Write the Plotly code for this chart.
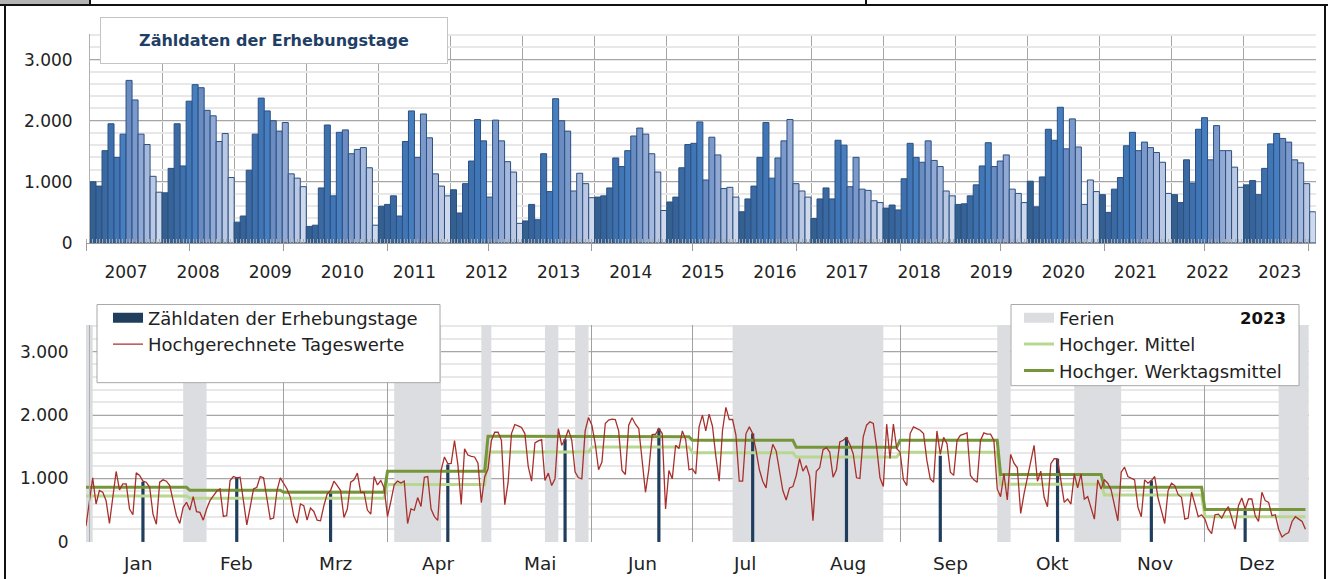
import pandas as pd
import plotly.graph_objects as go

# ---------------- obere Grafik: Zähldaten der Erhebungstage 2007-2023 ----------------
jahre = list(range(2007, 2024))
werte_2007 = [1000, 930, 1510, 1950, 1400, 1780, 2660, 2340, 1780, 1610, 1090, 830]
werte_2008 = [820, 1220, 1950, 1260, 2320, 2590, 2540, 2170, 2080, 1660, 1790, 1070]
werte_2009 = [340, 440, 1190, 1780, 2370, 2160, 2000, 1830, 1970, 1130, 1060, 920]
werte_2010 = [270, 290, 900, 1930, 770, 1810, 1850, 1460, 1530, 1560, 1230, 290]
werte_2011 = [600, 630, 770, 440, 1660, 2160, 1400, 2110, 1720, 1130, 930, 770]
werte_2012 = [870, 490, 970, 1340, 2020, 1670, 750, 2010, 1670, 1330, 1160, 320]
werte_2013 = [360, 630, 380, 1460, 840, 2360, 2000, 1830, 850, 1140, 970, 740]
werte_2014 = [750, 770, 900, 1390, 1250, 1510, 1750, 1880, 1780, 1460, 1160, 530]
werte_2015 = [670, 750, 1230, 1610, 1630, 1980, 1030, 1730, 1440, 890, 910, 750]
werte_2016 = [510, 720, 930, 1400, 1970, 1060, 1390, 1670, 2020, 970, 850, 750]
werte_2017 = [400, 720, 900, 720, 1680, 1600, 920, 1400, 880, 860, 690, 660]
werte_2018 = [570, 620, 540, 1050, 1630, 1400, 1320, 1670, 1350, 1250, 850, 770]
werte_2019 = [630, 640, 770, 950, 1260, 1640, 1250, 1340, 1440, 880, 810, 660]
werte_2020 = [1010, 590, 1080, 1860, 1680, 2220, 1540, 2030, 1570, 630, 1030, 840]
werte_2021 = [790, 500, 880, 1070, 1590, 1810, 1510, 1650, 1560, 1480, 1320, 810]
werte_2022 = [790, 660, 1360, 980, 1860, 2050, 1360, 1920, 1510, 1510, 1240, 910]
werte_2023 = [950, 1020, 790, 1220, 1620, 1790, 1710, 1650, 1360, 1310, 970, 510]
monatswerte = [werte_2007, werte_2008, werte_2009, werte_2010, werte_2011, werte_2012,
               werte_2013, werte_2014, werte_2015, werte_2016, werte_2017, werte_2018,
               werte_2019, werte_2020, werte_2021, werte_2022, werte_2023]

monatsfarben = ['#34608f', '#36649a', '#3b6aa3', '#3e70ad', '#4176b6', '#467ec0',
                '#6a8cc1', '#7b9acb', '#92a9d3', '#a6b9dc', '#bac8e3', '#cfd9ec']

# ---------------- untere Grafik: Jahr 2023 ----------------
monate = ['Jan', 'Feb', 'Mrz', 'Apr', 'Mai', 'Jun', 'Jul', 'Aug', 'Sep', 'Okt', 'Nov', 'Dez']

tage_jan = [254, 620, 1010, 598, 810, 783, 650, 291, 700, 1111, 820, 915, 915, 518, 429, 1090,
            1048, 958, 942, 862, 439, 280, 942, 979, 958, 889, 651, 413, 291, 545, 624]
tage_feb = [503, 714, 476, 466, 344, 519, 651, 725, 799, 836, 402, 413, 968, 1032, 1011, 1021,
            651, 270, 545, 836, 862, 1032, 1011, 677, 360, 376, 810, 1011]
tage_mrz = [926, 836, 704, 413, 296, 598, 571, 344, 534, 481, 344, 333, 571, 757, 810, 958,
            889, 810, 386, 519, 942, 979, 1085, 783, 783, 503, 439, 1032, 899, 968, 850]
tage_apr = [400, 640, 900, 960, 930, 960, 290, 520, 500, 700, 560, 1020, 1030, 520, 400, 340,
            1130, 1340, 1233, 1240, 1600, 1220, 590, 1470, 1370, 1350, 1340, 1240, 620, 1030]
tage_mai = [1150, 1600, 1730, 1730, 1603, 587, 942, 1709, 1852, 1831, 1804, 1709, 1190, 958,
            1561, 1593, 1614, 968, 1085, 889, 995, 1788, 1524, 1619, 1772, 1603, 1101, 1011,
            995, 1751, 1963]
tage_jun = [1841, 1550, 1138, 1259, 1868, 1921, 1937, 1931, 1751, 1127, 1063, 1841, 1958, 1857,
            1788, 1286, 783, 1138, 1693, 1698, 1788, 1709, 519, 1127, 995, 1524, 1471, 1751,
            1614, 1138]
tage_jul = [1153, 1074, 1815, 2000, 1751, 2016, 1825, 1349, 958, 1762, 2122, 1931, 1931, 1683,
            958, 958, 1709, 1815, 1709, 1444, 1138, 958, 852, 1286, 1540, 1434, 1085, 810, 661,
            852, 873]
tage_aug = [1048, 1312, 1116, 1206, 1032, 333, 1116, 1169, 1455, 1487, 1418, 1021, 1138, 1577,
            1603, 1646, 1540, 1392, 1011, 1000, 1656, 1841, 1894, 1868, 1497, 1011, 873, 1857,
            1312, 1857, 1471]
tage_sep = [1418, 979, 889, 1709, 1815, 1788, 1762, 1709, 1286, 995, 942, 1750, 1380, 1650,
            1550, 1100, 1050, 1600, 1680, 1700, 1720, 1048, 980, 940, 1600, 1720, 1700, 1700,
            1600, 836]
tage_okt = [714, 1074, 661, 1381, 1243, 1169, 450, 757, 995, 1259, 1524, 958, 1116, 704, 556,
            1233, 1312, 1310, 979, 624, 677, 598, 1074, 852, 1074, 677, 714, 519, 360, 979, 836]
tage_nov = [979, 926, 820, 587, 333, 1101, 1180, 1032, 1011, 979, 545, 397, 979, 926, 968, 1032,
            693, 466, 291, 810, 926, 889, 746, 704, 360, 376, 783, 598, 397, 429]
tage_dez = [360, 201, 132, 429, 439, 376, 481, 556, 360, 201, 571, 693, 519, 677, 677, 413, 323,
            783, 651, 624, 413, 429, 201, 79, 122, 148, 323, 397, 360, 323, 201]

erhebungstage = ['2023-01-18', '2023-02-15', '2023-03-15', '2023-04-19', '2023-05-24',
                 '2023-06-21', '2023-07-19', '2023-08-16', '2023-09-13', '2023-10-18',
                 '2023-11-15', '2023-12-13']

mittel = [725, 688, 688, 905, 1418, 1497, 1407, 1339, 1413, 910, 741, 397]
werktagsmittel = [862, 815, 783, 1116, 1667, 1660, 1603, 1492, 1603, 1063, 862, 513]

ferien = [('2023-01-01', '2023-01-02'), ('2023-01-30', '2023-02-05'), ('2023-04-03', '2023-04-16'),
          ('2023-04-29', '2023-05-01'), ('2023-05-18', '2023-05-21'), ('2023-05-27', '2023-05-30'),
          ('2023-07-13', '2023-08-26'), ('2023-09-30', '2023-10-03'), ('2023-10-23', '2023-11-05'),
          ('2023-12-23', '2023-12-31')]

# ---------------- Geometrie (Pixel der Vorlage) ----------------
W, H = 1328, 579
H_FIG = 590          # Figurhöhe; Positionen bleiben relativ zu H
Y_MAX = 3420
FONT = 'DejaVu Sans, Arial, sans-serif'


def px_x(x):
    return x / W


def px_y(y):
    return 1 - y / H


oben_links, oben_rechts, oben_null = 90, 1315.7, 242.5
oben_oben = oben_null - Y_MAX * 0.061
unten_links, unten_rechts, unten_null = 86, 1308.8, 541
unten_oben = unten_null - Y_MAX * 0.0633

start = pd.Timestamp('2023-01-01')


def tag(datum):
    return (pd.Timestamp(datum) - start).days


fig = go.Figure()

# obere Säulen
x_oben, y_oben, farben = [], [], []
for i, werte in enumerate(monatswerte):
    for m, v in enumerate(werte):
        x_oben.append(i * 12 + m)
        y_oben.append(v)
        farben.append(monatsfarben[m])
fig.add_trace(go.Bar(x=x_oben, y=y_oben, width=1,
                     marker=dict(color=farben, line=dict(color='#2b5080', width=1)),
                     showlegend=False, xaxis='x', yaxis='y', hoverinfo='skip'))

# untere Grafik
tageswerte = (tage_jan + tage_feb + tage_mrz + tage_apr + tage_mai + tage_jun +
              tage_jul + tage_aug + tage_sep + tage_okt + tage_nov + tage_dez)
tage = list(range(len(tageswerte)))
monatsanfang = [tag(d) for d in pd.date_range('2023-01-01', '2024-01-01', freq='MS')]

fig.add_trace(go.Bar(x=[tag(a) for a, b in ferien],
                     y=[Y_MAX] * len(ferien),
                     width=[tag(b) - tag(a) + 1 for a, b in ferien], offset=0,
                     marker=dict(color='#dcdde0', line=dict(width=0)),
                     showlegend=False, xaxis='x2', yaxis='y2', hoverinfo='skip'))

x_stufen, y_mittel, y_werktag = [], [], []
for m in range(12):
    x_stufen += [monatsanfang[m], monatsanfang[m + 1] - 1]
    y_mittel += [mittel[m], mittel[m]]
    y_werktag += [werktagsmittel[m], werktagsmittel[m]]

fig.add_trace(go.Scatter(x=x_stufen, y=y_mittel, mode='lines', name='Hochger. Mittel',
                         line=dict(color='#b8d891', width=3), legend='legend2', legendrank=2,
                         xaxis='x2', yaxis='y2'))
fig.add_trace(go.Scatter(x=x_stufen, y=y_werktag, mode='lines', name='Hochger. Werktagsmittel',
                         line=dict(color='#76963a', width=3), legend='legend2', legendrank=3,
                         xaxis='x2', yaxis='y2'))
fig.add_trace(go.Scatter(x=tage, y=tageswerte, mode='lines', name='Hochgerechnete Tageswerte',
                         line=dict(color='#a8302c', width=1.3), legend='legend', legendrank=2,
                         xaxis='x2', yaxis='y2'))
fig.add_trace(go.Bar(x=[tag(d) for d in erhebungstage], y=werte_2023, width=0.95,
                     marker=dict(color='#1f3d5c', line=dict(width=0)),
                     showlegend=False, xaxis='x2', yaxis='y2'))

# Legendensymbole
fig.add_trace(go.Scatter(x=[None], y=[None], mode='lines', name='Zähldaten der Erhebungstage',
                         line=dict(color='#1f3d5c', width=10), legend='legend', legendrank=1,
                         xaxis='x2', yaxis='y2'))
fig.add_trace(go.Scatter(x=[None], y=[None], mode='lines', name='Ferien',
                         line=dict(color='#dcdde0', width=10), legend='legend2', legendrank=1,
                         xaxis='x2', yaxis='y2'))

achsen_font = dict(family=FONT, size=17, color='#222222')
monat_font = dict(family=FONT, size=18.5, color='#222222')
legenden_font = dict(family=FONT, size=18, color='#222222')

fig.update_layout(
    width=W, height=H_FIG,
    margin=dict(l=0, r=0, t=0, b=0),
    paper_bgcolor='white', plot_bgcolor='white',
    font=dict(family=FONT, size=17, color='#222222'),
    separators=',.',
    barmode='overlay',
    xaxis=dict(domain=[px_x(oben_links), px_x(oben_rechts)], range=[-0.5, len(jahre) * 12 - 0.5],
               tickmode='array', tickvals=[i * 12 + 5.5 for i in range(len(jahre))],
               ticktext=[str(j) for j in jahre], ticks='', ticklabelstandoff=14,
               tickfont=achsen_font, showgrid=False, zeroline=False,
               showline=True, linecolor='#a0a0a0',
               minor=dict(tickmode='array', tickvals=[i * 12 - 0.5 for i in range(len(jahre) + 1)],
                          showgrid=True, gridcolor='#a6a6a6', gridwidth=1, ticks='')),
    yaxis=dict(domain=[px_y(oben_null), px_y(oben_oben)], range=[0, Y_MAX],
               tickmode='array', tickvals=[0, 1000, 2000, 3000], tickformat=',d',
               tickfont=achsen_font, ticklabelstandoff=13,
               gridcolor='#a6a6a6', gridwidth=1, zeroline=False,
               showline=True, linecolor='#b0b0b0',
               minor=dict(tickmode='linear', tick0=0, dtick=200, showgrid=True,
                          gridcolor='#e8e8e8', gridwidth=2)),
    xaxis2=dict(domain=[px_x(unten_links), px_x(unten_rechts)], range=[0, 365],
                tickmode='array', tickvals=monatsanfang, ticktext=[''] * len(monatsanfang),
                ticks='outside', ticklen=7, tickcolor='#9a9a9a', tickwidth=1,
                showgrid=True, gridcolor='#a0a0a0', gridwidth=1, zeroline=False,
                showline=True, linecolor='#9a9a9a',
                minor=dict(tickmode='linear', tick0=0, dtick=1, ticks='inside', ticklen=4,
                           tickcolor='#a8a8a8', tickwidth=1, showgrid=False)),
    yaxis2=dict(domain=[px_y(unten_null), px_y(unten_oben)], range=[0, Y_MAX],
                tickmode='array', tickvals=[0, 1000, 2000, 3000], tickformat=',d',
                tickfont=achsen_font, ticklabelstandoff=17,
                gridcolor='#a6a6a6', gridwidth=1, zeroline=False,
                showline=True, linecolor='#b0b0b0',
                minor=dict(tickmode='linear', tick0=0, dtick=200, showgrid=True,
                           gridcolor='#e8e8e8', gridwidth=2)),
    legend=dict(x=px_x(108), y=px_y(299), xanchor='left', yanchor='top',
                bgcolor='rgba(0,0,0,0)', borderwidth=0, itemwidth=30,
                font=legenden_font, tracegroupgap=0),
    legend2=dict(x=px_x(1019), y=px_y(299), xanchor='left', yanchor='top',
                 bgcolor='rgba(0,0,0,0)', borderwidth=0, itemwidth=30,
                 font=legenden_font, tracegroupgap=0),
)

# Rahmen und Legendenkästen
rahmen = [
    dict(type='rect', x0=0, x1=90, y0=0, y1=4, fillcolor='#b4b4b4', line_width=0),
    dict(type='line', x0=0, x1=W, y0=5, y1=5, line=dict(color='#111', width=2)),
    dict(type='line', x0=5, x1=5, y0=5, y1=H, line=dict(color='#111', width=2)),
    dict(type='line', x0=1325, x1=1325, y0=5, y1=H, line=dict(color='#111', width=2)),
    dict(type='line', x0=90, x1=90, y0=0, y1=5, line=dict(color='#111', width=2)),
    dict(type='line', x0=866, x1=866, y0=0, y1=5, line=dict(color='#111', width=2)),
    dict(type='rect', x0=97, x1=440, y0=304, y1=382, fillcolor='white',
         line=dict(color='#a8a8a8', width=1)),
    dict(type='rect', x0=1011, x1=1299, y0=304, y1=385, fillcolor='white',
         line=dict(color='#a8a8a8', width=1)),
]
for s in rahmen:
    s = dict(s)
    s['x0'], s['x1'] = px_x(s['x0']), px_x(s['x1'])
    s['y0'], s['y1'] = px_y(s['y0']), px_y(s['y1'])
    fig.add_shape(xref='paper', yref='paper', layer='above', **s)

# Titelkasten oben
fig.add_annotation(x=px_x(274), y=px_y(40), xref='paper', yref='paper', showarrow=False,
                   xanchor='center', yanchor='middle',
                   text='<b>Zähldaten der Erhebungstage</b>',
                   font=dict(family=FONT, size=16, color='#1f3f66'),
                   bgcolor='white', bordercolor='#c4c4c4', borderwidth=1, borderpad=1,
                   width=344, height=43)

# Jahreskennung in der Legende
fig.add_annotation(x=px_x(1288), y=px_y(318), xref='paper', yref='paper', showarrow=False,
                   xanchor='right', yanchor='middle', text='<b>2023</b>',
                   font=dict(family=FONT, size=16.5, color='#111'))

# Monatsnamen unten
for m in range(12):
    fig.add_annotation(x=(monatsanfang[m] + monatsanfang[m + 1]) / 2, y=px_y(563),
                       xref='x2', yref='paper', showarrow=False, text=monate[m],
                       xanchor='center', yanchor='middle', font=monat_font)

seite = ("document.body.style.margin='0px';"
         "document.body.style.overflow='hidden';"
         "document.documentElement.style.overflow='hidden';"
         "document.querySelectorAll('.plotly-graph-div').forEach(function(d){d.style.overflow='hidden';});")
fig.write_html("out.html", config={'displayModeBar': False}, post_script=seite)
